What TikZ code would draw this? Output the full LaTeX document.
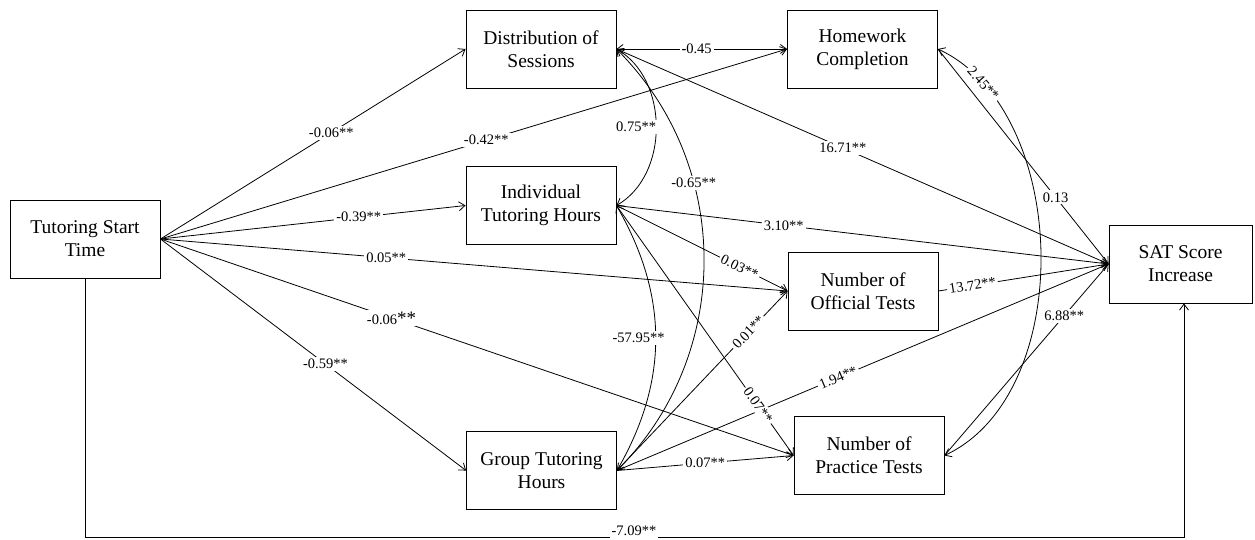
\documentclass[tikz,border=0pt]{standalone}
\usepackage{fontspec}
\setmainfont{Liberation Serif}
\usetikzlibrary{arrows.meta}
\begin{document}
\begin{tikzpicture}[x=1pt,y=-1pt,
  box/.style={draw, line width=0.9pt, minimum width=150pt, minimum height=78pt,
    align=center, inner sep=2pt, font=\fontsize{19.5}{23}\selectfont},
  conn/.style={line width=0.8pt, -{Straight Barb[length=6pt,width=9pt]}},
  biconn/.style={line width=0.8pt, {Straight Barb[length=6pt,width=9pt]}-{Straight Barb[length=6pt,width=9pt]}},
  lbl/.style={fill=white, inner sep=2pt, font=\fontsize{14.5}{16}\selectfont},
]
\useasboundingbox (0,0) rectangle (1255,539);

% variables
\node[box] (tst)  at (85,239)     {Tutoring Start\\Time};
\node[box] (dist) at (541,49)     {Distribution of\\Sessions};
\node[box] (ind)  at (541,205.5)  {Individual\\Tutoring Hours};
\node[box] (grp)  at (541.5,470.5){Group Tutoring\\Hours};
\node[box] (hw)   at (862.5,49)   {Homework\\Completion};
\node[box] (off)  at (863,291)    {Number of\\Official Tests};
\node[box] (prac) at (869,455.5)  {Number of\\Practice Tests};
\node[box, minimum width=143pt] (sat) at (1180.5,264) {SAT Score\\Increase};
\coordinate (low) at (634,537);

% paths (lines first, coefficients drawn on top afterwards)
\draw[conn] (tst.east) -- (dist.west);
\draw[conn] (tst.east) -- (hw.west);
\draw[conn] (tst.east) -- (ind.west);
\draw[conn] (tst.east) -- (off.west);
\draw[conn] (tst.east) -- (prac.west);
\draw[conn] (tst.east) -- (grp.west);
\draw[conn] (tst.south) |- (low) -| ([xshift=3.5pt]sat.south);

\draw[biconn] (dist.east) -- (hw.west);
\draw[biconn] (dist.east) to[out=-30,in=30] (ind.east);
\draw[biconn] (dist.east) to[out=-45,in=45] (grp.east);
\draw[biconn] (ind.east) to[out=-60,in=60] (grp.east);
\draw[biconn] (hw.east) to[out=-25,in=25,looseness=0.92] (prac.east);

\draw[conn] (dist.east) -- (sat.west);
\draw[conn] (ind.east) -- (sat.west);
\draw[conn] (ind.east) -- (off.west);
\draw[conn] (ind.east) -- (prac.west);
\draw[conn] (grp.east) -- (off.west);
\draw[conn] (grp.east) -- (sat.west);
\draw[conn] (grp.east) -- (prac.west);
\draw[conn] (off.east) -- (sat.west);
\draw[conn] (hw.east) -- (sat.west);
\draw[conn] (prac.east) -- (sat.west);

% coefficients
\path (tst.east) -- node[lbl,pos=.56]{-0.06**} (dist.west);
\path (tst.east) -- node[lbl,pos=.52]{-0.42**} (hw.west);
\path (tst.east) -- node[lbl,pos=.65]{-0.39**} (ind.west);
\path (tst.east) -- node[lbl,pos=.36]{0.05**} (off.west);
\path (tst.east) -- node[lbl,pos=.365]{-0.06{\fontsize{19}{19}\selectfont**}} (prac.west);
\path (tst.east) -- node[lbl,pos=.54]{-0.59**} (grp.west);
\node[lbl, yshift=6pt] at (low) {-7.09**};

\path (dist.east) -- node[lbl,pos=.47]{{\bfseries -}0.45} (hw.west);
\path (dist.east) to[out=-30,in=30] node[lbl,pos=.5,xshift=-20pt]{0.75**} (ind.east);
\path (dist.east) to[out=-45,in=45] node[lbl,pos=.33]{-0.65**} (grp.east);
\path (ind.east) to[out=-60,in=60] node[lbl,pos=.5,xshift=-17pt]{-57.95**} (grp.east);
\path (hw.east) to[out=-25,in=25,looseness=0.92] node[lbl,pos=.13,sloped]{2.45**} (prac.east);

\path (dist.east) -- node[lbl,pos=.46]{16.71**} (sat.west);
\path (ind.east) -- node[lbl,pos=.34]{3.10**} (sat.west);
\path (ind.east) -- node[lbl,pos=.72,sloped]{0.03**} (off.west);
\path (ind.east) -- node[lbl,pos=.8,sloped]{0.07**} (prac.west);
\path (grp.east) -- node[lbl,pos=.77,sloped]{0.01**} (off.west);
\path (grp.east) -- node[lbl,pos=.45,sloped]{1.94**} (sat.west);
\path (grp.east) -- node[lbl,pos=.5]{0.07**} (prac.west);
\path (off.east) -- node[lbl,pos=.2,sloped]{13.72**} (sat.west);
\path (hw.east) -- node[lbl,pos=.69]{0.13} (sat.west);
\path (prac.east) -- node[lbl,pos=.73]{6.88**} (sat.west);
\end{tikzpicture}
\end{document}
